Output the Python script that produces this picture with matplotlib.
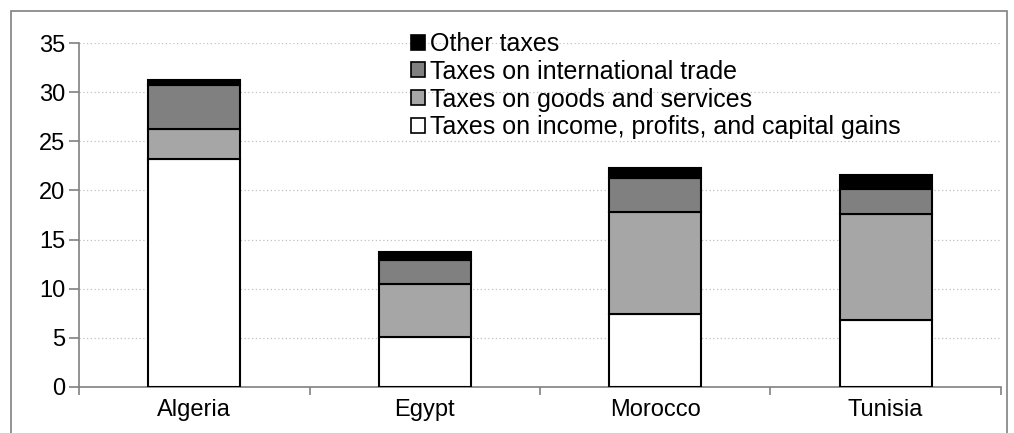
import numpy as np
import matplotlib
matplotlib.use("Agg")
import matplotlib.pyplot as plt
from matplotlib.patches import Rectangle

countries = ["Algeria", "Egypt", "Morocco", "Tunisia"]
income = [23.2, 5.1, 7.4, 6.8]
goods = [3.1, 5.4, 10.4, 10.8]
trade = [4.5, 2.4, 3.5, 2.55]
other = [0.5, 0.8, 1.0, 1.4]

series = [
    ("Taxes on income, profits, and capital gains", income, "white"),
    ("Taxes on goods and services", goods, "#a6a6a6"),
    ("Taxes on international trade", trade, "#808080"),
    ("Other taxes", other, "black"),
]

plt.rcParams["font.family"] = ["Liberation Sans", "DejaVu Sans"]

fig = plt.figure(figsize=(10.14, 4.33), dpi=100)
ax = fig.add_axes([0.078, 0.107, 0.909, 0.793])

# outer chart border
fig.patches.append(Rectangle((0.011, -0.05), 0.982, 1.025, transform=fig.transFigure,
                             fill=False, edgecolor="#808080", linewidth=1.2))

x = np.arange(len(countries))
bottom = np.zeros(len(countries))
handles = []
for label, vals, color in series:
    b = ax.bar(x, vals, 0.4, bottom=bottom, color=color, edgecolor="black",
               linewidth=1.5, label=label, zorder=3)
    handles.append(b)
    bottom += np.array(vals)

ax.set_xlim(-0.5, len(countries) - 0.5)
ax.set_ylim(0, 35)
ax.set_yticks(range(0, 36, 5))
ax.yaxis.grid(True, linestyle=(0, (1, 2)), color="#c0c0c0", linewidth=0.9, zorder=0)

ax.set_xticks(x)
ax.set_xticklabels(countries)
ax.set_xticks(np.arange(-0.5, len(countries)), minor=True)
ax.tick_params(axis="x", which="major", length=0, pad=9, labelsize=17)
ax.tick_params(axis="x", which="minor", length=6, color="#808080", width=1.2)
ax.tick_params(axis="y", length=7, color="#808080", width=1.2, labelsize=17, pad=3)

for side in ["top", "right"]:
    ax.spines[side].set_visible(False)
for side in ["left", "bottom"]:
    ax.spines[side].set_color("#808080")
    ax.spines[side].set_linewidth(1.2)

leg = ax.legend(handles[::-1], [s[0] for s in series[::-1]], loc="upper left",
                bbox_to_anchor=(0.349, 1.062), frameon=False, fontsize=18,
                handlelength=0.55, handleheight=0.55, handletextpad=0.2,
                labelspacing=0.15, borderaxespad=0)
for h in leg.legend_handles:
    h.set_linewidth(1.2)

fig.savefig("out.png", dpi=100)
